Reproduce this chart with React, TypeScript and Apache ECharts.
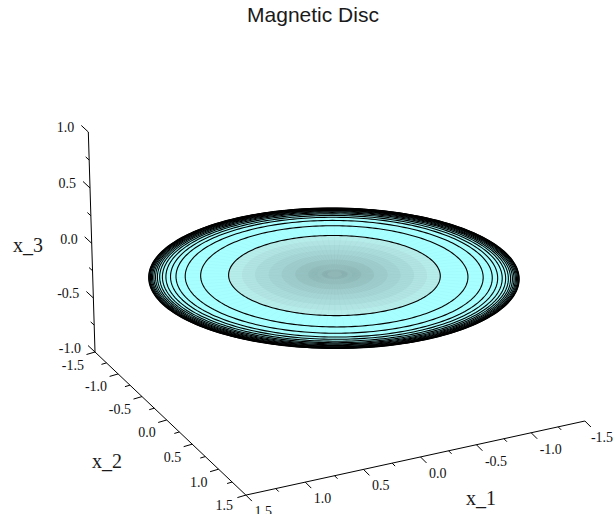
import React, { useEffect, useRef } from "react";
import * as echarts from "echarts";

const title = "Magnetic Disc";
const discRadius = 1.5;
const discHeight = 0.01;
const bandRadii = [0.86, 0.75, 0.645, 0.535, 0.43, 0.32, 0.215, 0.105];
const bandColors = ["#b6ecea", "#b1e4e3", "#abdcdc", "#a6d5d5", "#a0cdcd", "#9ac5c5", "#95bebe", "#90b6b6"];
const contourRadii = [
  0.858, 1.083, 1.207, 1.281, 1.325, 1.362, 1.39, 1.412, 1.43, 1.445, 1.458, 1.469, 1.478, 1.486,
  1.492, 1.497, 1.5,
];
const x1Ticks = [1.5, 1.0, 0.5, 0.0, -0.5, -1.0, -1.5];
const x2Ticks = [-1.5, -1.0, -0.5, 0.0, 0.5, 1.0, 1.5];
const x3Ticks = [1.0, 0.5, 0.0, -0.5, -1.0];
const x1Minor = [1.25, 0.75, 0.25, -0.25, -0.75, -1.25];
const x2Minor = [-1.25, -0.75, -0.25, 0.25, 0.75, 1.25];
const x3Minor = [0.75, 0.25, -0.25, -0.75];

// perspective camera fitted to the reference box
function project(x1: number, x2: number, x3: number): [number, number] {
  const w = 0.9685 - 0.0187 * x1 - 0.0317 * x2 - 0.012 * x3;
  const sx = 324.15 - 113.2 * x1 + 42.5 * x2 - 4.4 * x3;
  const sy = 266.7 + 14.47 * x1 + 32 * x2 - 111.6 * x3;
  return [sx / w, sy / w];
}

const SEGMENTS = 240;
function ring(r: number): [number, number][] {
  const pts: [number, number][] = [];
  for (let i = 0; i <= SEGMENTS; i++) {
    const a = (i / SEGMENTS) * Math.PI * 2;
    pts.push(project(r * Math.cos(a), r * Math.sin(a), discHeight));
  }
  return pts;
}

const SERIF = '"Liberation Serif", serif';
const tickFont = `14px ${SERIF}`;
const nameFont = `20px ${SERIF}`;

type Row = { from: [number, number, number]; to?: [number, number, number]; dx?: number; dy?: number };

function lineSeries(rows: Row[], width: number) {
  return {
    type: "custom",
    coordinateSystem: "cartesian2d",
    clip: false,
    silent: true,
    data: rows.map((_, i) => [i, i]),
    renderItem: (_p: any, api: any) => {
      const row = rows[api.value(0)];
      const [ax, ay] = project(...row.from);
      const a = api.coord([ax, ay]);
      let b;
      if (row.to) b = api.coord(project(...row.to));
      else b = [a[0] + (row.dx || 0), a[1] + (row.dy || 0)];
      return {
        type: "line",
        shape: { x1: a[0], y1: a[1], x2: b[0], y2: b[1] },
        style: { stroke: "#000", lineWidth: width, fill: "none" },
      };
    },
  };
}

type Lab = { text: string; at: [number, number, number]; dx: number; dy: number; align: string };

function labelSeries(labels: Lab[]) {
  return {
    type: "custom",
    coordinateSystem: "cartesian2d",
    clip: false,
    silent: true,
    data: labels.map((_, i) => [i, i]),
    renderItem: (_p: any, api: any) => {
      const l = labels[api.value(0)];
      const p = api.coord(project(...l.at));
      return {
        type: "text",
        style: {
          text: l.text,
          x: p[0] + l.dx,
          y: p[1] + l.dy,
          font: tickFont,
          fill: "#111",
          textAlign: l.align,
          textVerticalAlign: "middle",
        },
      };
    },
  };
}

function fmt(v: number) {
  return v.toFixed(1);
}

export default function App() {
  const ref = useRef<HTMLDivElement>(null);
  useEffect(() => {
    document.body.style.margin = "0";
    const chart = echarts.init(ref.current!, undefined, { renderer: "svg" });

    const axisRows: Row[] = [
      { from: [1.5, -1.5, 1], to: [1.5, -1.5, -1] },
      { from: [1.5, -1.5, -1], to: [1.5, 1.5, -1] },
      { from: [1.5, 1.5, -1], to: [-1.5, 1.5, -1] },
    ];
    const majorRows: Row[] = [
      ...x1Ticks.map((v) => ({ from: [v, 1.5, -1] as [number, number, number], dx: 6, dy: 6 })),
      ...x2Ticks.map((v) => ({ from: [1.5, v, -1] as [number, number, number], dx: -8.5, dy: 2.5 })),
      ...x3Ticks.map((v) => ({ from: [1.5, -1.5, v] as [number, number, number], dx: -7, dy: -6.5 })),
    ];
    const minorRows: Row[] = [
      ...x1Minor.map((v) => ({ from: [v, 1.5, -1] as [number, number, number], dx: 3, dy: 3 })),
      ...x2Minor.map((v) => ({ from: [1.5, v, -1] as [number, number, number], dx: -5, dy: 1.5 })),
      ...x3Minor.map((v) => ({ from: [1.5, -1.5, v] as [number, number, number], dx: -3.5, dy: -3.2 })),
    ];
    const labels: Lab[] = [
      ...x1Ticks.map((v) => ({ text: fmt(v), at: [v, 1.5, -1] as [number, number, number], dx: v === -1.5 ? 6 : 8.5, dy: 16.5, align: "left" })),
      ...x2Ticks.map((v) => ({ text: fmt(v), at: [1.5, v, -1] as [number, number, number], dx: v === 1.5 ? -13 : -11, dy: v === 1.5 ? 10.5 : 13, align: "right" })),
      ...x3Ticks.map((v) => ({ text: fmt(v), at: [1.5, -1.5, v] as [number, number, number], dx: -14, dy: -4, align: "right" })),
    ];

    const spokes: number[] = [];
    for (let i = 0; i < 96; i++) spokes.push((i / 96) * Math.PI * 2);

    chart.setOption({
      animation: false,
      title: {
        text: title,
        left: 308,
        top: -1,
        textAlign: "center",
        textStyle: { fontFamily: '"Liberation Sans", Arial, sans-serif', fontSize: 21, fontWeight: "normal", color: "#1a1a1a" },
      },
      grid: { left: 0, right: 0, top: 0, bottom: 0 },
      xAxis: { type: "value", min: 0, max: 613, show: false },
      yAxis: { type: "value", min: 0, max: 514, inverse: true, show: false },
      graphic: [
        { type: "text", x: 13, y: 235, style: { text: "x_3", font: nameFont, fill: "#1a1a1a" } },
        { type: "text", x: 92, y: 451, style: { text: "x_2", font: nameFont, fill: "#1a1a1a" } },
        { type: "text", x: 466, y: 488, style: { text: "x_1", font: nameFont, fill: "#1a1a1a" } },
      ],
      series: [
        lineSeries(axisRows, 1),
        lineSeries(majorRows, 1),
        lineSeries(minorRows, 1),
        labelSeries(labels),
        {
          type: "custom",
          coordinateSystem: "cartesian2d",
          clip: false,
          silent: true,
          data: [[0, discRadius]],
          renderItem: (_p: any, api: any) => ({
            type: "polygon",
            shape: { points: ring(api.value(1)).map((p) => api.coord(p)) },
            style: { fill: "#a8ffff", stroke: "none" },
          }),
        },
        {
          type: "custom",
          coordinateSystem: "cartesian2d",
          clip: false,
          silent: true,
          data: bandRadii.map((r, i) => [i, r]),
          renderItem: (_p: any, api: any) => ({
            type: "polygon",
            shape: { points: ring(api.value(1)).map((p) => api.coord(p)) },
            style: { fill: bandColors[api.value(0)], stroke: "none" },
          }),
        },
        {
          type: "custom",
          coordinateSystem: "cartesian2d",
          clip: false,
          silent: true,
          data: spokes.map((a, i) => [i, a]),
          renderItem: (_p: any, api: any) => {
            const a = api.value(1);
            const start = api.value(0) % 2 === 0 ? 0.06 : 0.14;
            const p0 = api.coord(project(start * Math.cos(a), start * Math.sin(a), discHeight));
            const p1 = api.coord(project(discRadius * Math.cos(a), discRadius * Math.sin(a), discHeight));
            return {
              type: "line",
              shape: { x1: p0[0], y1: p0[1], x2: p1[0], y2: p1[1] },
              style: { stroke: "rgba(0,70,70,0.05)", lineWidth: 0.5 },
            };
          },
        },
        {
          type: "custom",
          coordinateSystem: "cartesian2d",
          clip: false,
          silent: true,
          data: contourRadii.map((r, i) => [i, r]),
          renderItem: (_p: any, api: any) => ({
            type: "polyline",
            shape: { points: ring(api.value(1)).map((p) => api.coord(p)) },
            style: { stroke: "#000", lineWidth: 1.1, fill: "none" },
          }),
        },
      ],
    });
    return () => chart.dispose();
  }, []);
  return <div ref={ref} style={{ width: 613, height: 514 }} />;
}
